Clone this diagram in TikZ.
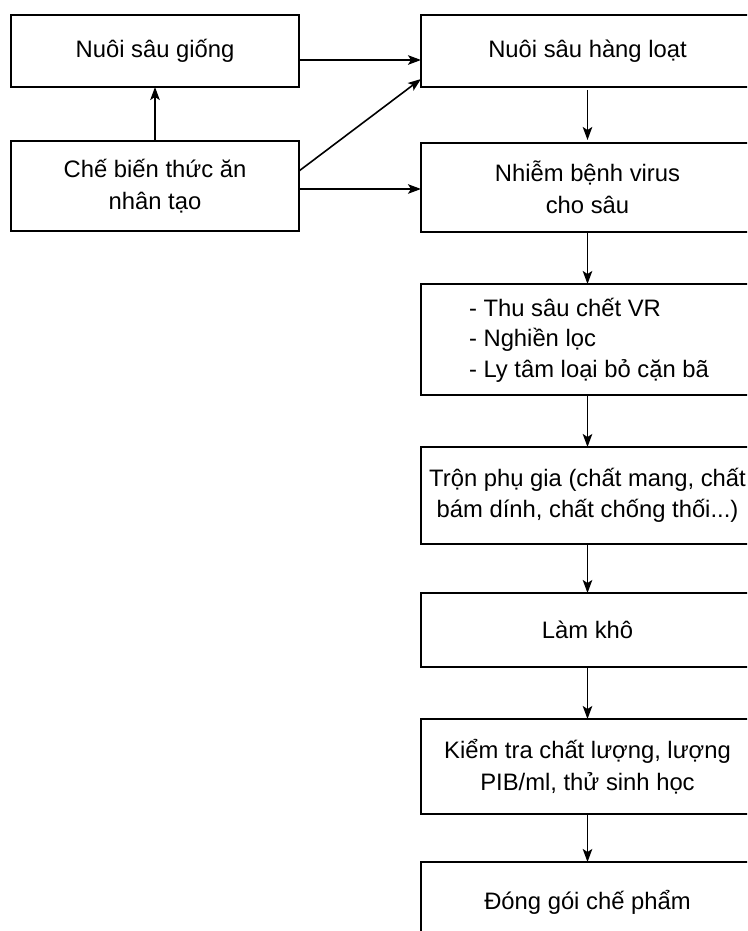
\documentclass[tikz,border=0pt]{standalone}
\usepackage{fontspec}
\setmainfont{Liberation Sans}
\usetikzlibrary{arrows.meta}
\tikzset{
  box/.style={draw, line width=2pt, rectangle, inner sep=0pt, outer sep=0pt, align=center,
    font=\fontsize{23.8pt}{31.5pt}\selectfont},
  arr/.style={line width=1.6pt, -{Stealth[length=13pt,width=9.5pt,inset=3pt]}},
}
\begin{document}
\begin{tikzpicture}[x=1pt,y=-1pt]
\useasboundingbox (0,0) rectangle (747,931);
\clip (0,0) rectangle (747,931);
\node[box, minimum width=288pt, minimum height=72pt] (L1) at (155,51) {Nuôi sâu giống};
\node[box, minimum width=288pt, minimum height=90pt] (L2) at (155,186) {Chế biến thức ăn\\nhân tạo};
\node[box, minimum width=333pt, minimum height=72pt] (R1) at (587.5,51) {Nuôi sâu hàng loạt};
\node[box, minimum width=333pt, minimum height=89pt] (R2) at (587.5,187.5) {Nhiễm bệnh virus\\cho sâu};
\node[box, minimum width=333pt, minimum height=111pt] (R3) at (587.5,339.5) {};
\node[font=\fontsize{23.8pt}{30.5pt}\selectfont, align=left, inner sep=0pt] (R3t) at (589,340) {- Thu sâu chết VR\\- Nghiền lọc\\- Ly tâm loại bỏ cặn bã};
\node[box, minimum width=333pt, minimum height=97pt] (R4) at (587.5,495.5) {Trộn phụ gia (chất mang, chất\\bám dính, chất chống thối...)};
\node[box, minimum width=333pt, minimum height=74pt] (R5) at (587.5,630) {Làm khô};
\node[box, minimum width=333pt, minimum height=95pt] (R6) at (587.5,766.5) {Kiểm tra chất lượng, lượng\\PIB/ml, thử sinh học};
\node[box, minimum width=333pt, minimum height=80pt] (R7) at (587.5,902) {Đóng gói chế phẩm};
\draw[arr] (L1.east |- 0,60) -- (R1.west |- 0,60);
\draw[arr] (L2.east |- 0,171) -- (R1.west |- 0,79);
\draw[arr] (L2.east |- 0,189) -- (R2.west |- 0,189);
\draw[arr] (L2.north) -- (L1.south);
\draw[arr] ([yshift=-3pt]R1.south) -- ([yshift=3pt]R2.north);
\draw[arr] (R2.south) -- (R3.north);
\draw[arr] (R3.south) -- (R4.north);
\draw[arr] (R4.south) -- (R5.north);
\draw[arr] (R5.south) -- (R6.north);
\draw[arr] (R6.south) -- (R7.north);
\end{tikzpicture}
\end{document}
